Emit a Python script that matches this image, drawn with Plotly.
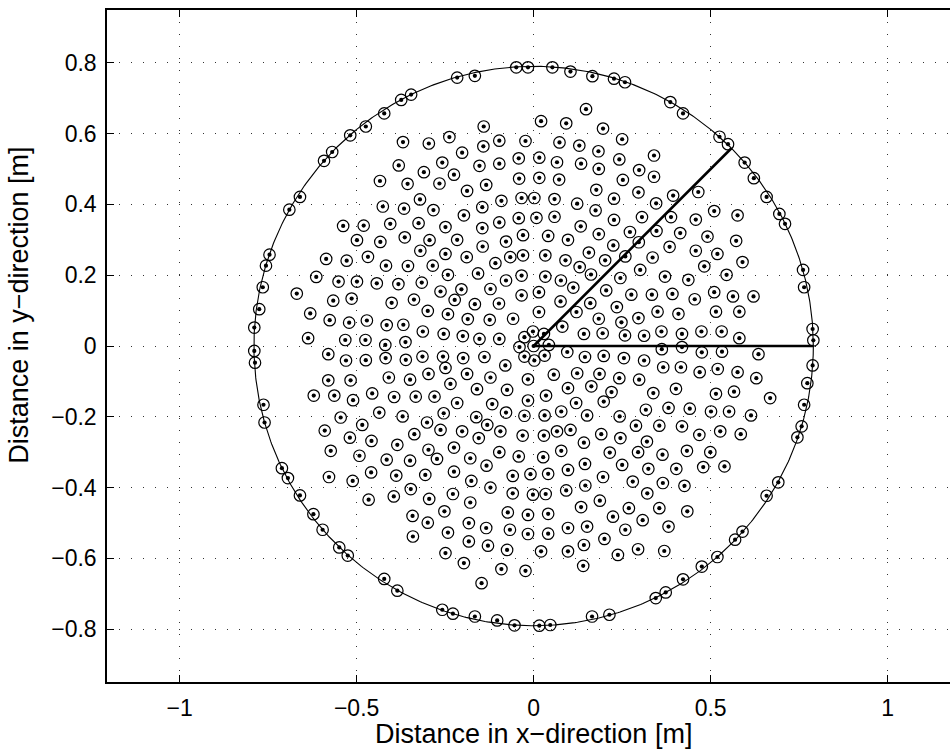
import numpy as np
import plotly.graph_objects as go

R = 0.79  # radius of boundary circle [m]

# Points lying on the boundary circle
ring_x = [-0.346,-0.374,-0.422,-0.474,-0.518,-0.569,-0.592,-0.660,-0.690,
          -0.746,-0.756,-0.765,-0.775,-0.789,-0.789,-0.787,-0.763,-0.760,
          -0.711,-0.694,-0.660,-0.622,-0.596,-0.549,-0.525,-0.422,-0.385,
          -0.258,-0.228,-0.166,-0.103,-0.054,0.016,0.047,0.165,0.214,
          0.345,0.373,0.422,0.475,0.519,0.569,0.590,0.658,0.691,
          0.745,0.757,0.764,0.773,0.788,0.790,0.788,0.764,0.761,
          0.710,0.694,0.658,0.622,0.596,0.549,0.525,0.422,0.386,
          0.258,0.227,0.166,0.104,0.053,-0.016,-0.049,-0.166,-0.216]
ring_y = [0.710,0.695,0.657,0.620,0.595,0.548,0.523,0.421,0.385,
          0.258,0.227,0.166,0.104,0.052,-0.014,-0.047,-0.166,-0.216,
          -0.345,-0.373,-0.422,-0.475,-0.519,-0.569,-0.592,-0.658,-0.691,
          -0.745,-0.756,-0.764,-0.775,-0.789,-0.790,-0.788,-0.764,-0.759,
          -0.712,-0.696,-0.659,-0.623,-0.596,-0.547,-0.524,-0.423,-0.385,
          -0.258,-0.227,-0.166,-0.105,-0.055,0.016,0.048,0.166,0.215,
          0.345,0.373,0.421,0.474,0.518,0.570,0.591,0.657,0.689,
          0.745,0.755,0.762,0.775,0.787,0.787,0.787,0.763,0.758]

# Interior points
inner_pts = [
 (-0.369,0.576),(-0.296,0.572),(-0.381,0.510),(-0.310,0.491),(-0.434,0.466),(-0.356,0.458),(-0.321,0.414),
 (-0.426,0.394),(-0.366,0.388),(-0.283,0.384),(-0.405,0.345),(-0.325,0.347),(-0.538,0.339),(-0.480,0.340),
 (-0.499,0.299),(-0.433,0.294),(-0.364,0.307),(-0.294,0.299),(-0.320,0.269),
 (0.148,0.669),(0.021,0.635),(0.092,0.629),(-0.141,0.620),(0.196,0.614),(-0.238,0.590),(0.250,0.584),
 (-0.097,0.580),(-0.023,0.579),(0.073,0.575),(-0.142,0.564),(0.129,0.566),(0.183,0.550),(-0.202,0.546),
 (-0.042,0.530),(0.016,0.532),(0.242,0.527),(-0.258,0.518),(0.066,0.519),(-0.097,0.515),(-0.153,0.509),
 (0.134,0.515),(0.184,0.500),(-0.225,0.484),(-0.266,0.459),(-0.134,0.455),(-0.041,0.473),(0.016,0.475),
 (0.072,0.470),(0.252,0.469),(-0.188,0.438),(0.177,0.441),(-0.091,0.410),(-0.034,0.418),(0.002,0.418),
 (0.059,0.415),(0.123,0.402),(0.227,0.416),(-0.145,0.392),(0.175,0.383),(-0.197,0.369),(-0.042,0.361),
 (0.008,0.362),(0.059,0.365),(-0.097,0.349),(0.227,0.356),(-0.249,0.336),(-0.145,0.333),(0.133,0.338),
 (0.184,0.316),(0.272,0.322),(-0.216,0.300),(-0.030,0.313),(0.041,0.311),(0.097,0.300),(-0.144,0.281),
 (-0.078,0.295),(0.225,0.284),
 (0.340,0.538),(0.298,0.497),(0.340,0.478),(0.296,0.434),(0.346,0.403),(0.394,0.425),(0.465,0.435),
 (0.510,0.381),(0.576,0.369),(0.306,0.364),(0.388,0.364),(0.458,0.357),(0.347,0.325),(0.414,0.319),
 (0.491,0.309),(0.572,0.297),(0.297,0.293),(0.384,0.280),
 (-0.586,0.246),(-0.528,0.241),(-0.468,0.252),(-0.417,0.227),(-0.355,0.226),(-0.285,0.227),(-0.614,0.195),
 (-0.551,0.182),(-0.499,0.182),(-0.443,0.177),(-0.382,0.175),(-0.316,0.179),(-0.669,0.148),(-0.566,0.128),
 (-0.514,0.134),(-0.401,0.122),(-0.338,0.131),(-0.631,0.092),(-0.576,0.073),(-0.521,0.066),(-0.471,0.072),
 (-0.415,0.059),(-0.368,0.060),(-0.299,0.099),(-0.313,0.041),(-0.637,0.022),(-0.532,0.017),(-0.475,0.017),
 (-0.419,0.003),(-0.362,0.011),(-0.580,-0.023),(-0.530,-0.041),(-0.474,-0.040),(-0.418,-0.034),(-0.361,-0.039),
 (-0.314,-0.030),(-0.580,-0.097),(-0.517,-0.097),(-0.409,-0.089),(-0.349,-0.095),(-0.297,-0.079),(-0.621,-0.140),
 (-0.563,-0.140),(-0.510,-0.153),(-0.456,-0.134),(-0.394,-0.144),(-0.333,-0.143),(-0.280,-0.143),(-0.545,-0.202),
 (-0.436,-0.188),(-0.370,-0.199),(-0.301,-0.216),(-0.484,-0.223),(-0.590,-0.239),(-0.519,-0.259),(-0.458,-0.268),
 (-0.337,-0.249),
 (-0.249,0.260),(-0.189,0.251),(-0.108,0.234),(-0.066,0.251),(-0.030,0.256),(0.033,0.256),(0.090,0.242),
 (0.130,0.223),(0.156,0.264),(0.202,0.242),(0.259,0.253),(-0.242,0.201),(-0.157,0.205),(-0.078,0.185),
 (-0.034,0.199),(0.015,0.152),(0.033,0.196),(0.077,0.185),(0.112,0.165),(0.162,0.202),(0.245,0.192),
 (-0.263,0.154),(-0.204,0.160),(-0.122,0.161),(-0.034,0.143),(0.205,0.157),(0.276,0.145),(-0.223,0.130),
 (-0.166,0.118),(-0.098,0.120),(0.076,0.126),(0.160,0.121),(0.235,0.110),(-0.242,0.090),(-0.186,0.076),
 (-0.124,0.074),(-0.058,0.077),(0.015,0.096),(0.121,0.096),(0.184,0.077),(0.248,0.067),(0.081,0.055),
 (-0.254,0.034),(-0.200,0.028),(-0.153,0.020),(-0.097,0.020),(0.142,0.034),(0.195,0.036),(0.258,0.030),
 (0.000,0.000),(-0.002,0.041),(0.029,0.034),(0.043,0.003),(0.031,-0.027),(0.002,-0.041),(-0.026,-0.030),
 (-0.040,-0.003),(-0.026,0.025),
 (-0.256,-0.030),(-0.199,-0.034),(-0.139,-0.031),(0.095,-0.017),(0.145,-0.031),(0.198,-0.028),(0.255,-0.034),
 (-0.249,-0.062),(-0.188,-0.079),(-0.080,-0.055),(0.057,-0.081),(0.123,-0.077),(0.186,-0.079),(0.242,-0.091),
 (-0.235,-0.107),(-0.160,-0.122),(-0.122,-0.089),(-0.016,-0.094),(-0.075,-0.124),(0.097,-0.119),(0.163,-0.114),
 (0.220,-0.130),(0.035,-0.140),(-0.016,-0.154),(0.120,-0.161),(0.198,-0.157),(-0.216,-0.161),(-0.117,-0.164),
 (0.078,-0.185),(-0.078,-0.188),(-0.254,-0.190),(0.031,-0.196),(0.151,-0.196),(-0.026,-0.197),(-0.162,-0.201),
 (0.243,-0.199),(-0.131,-0.223),(-0.202,-0.241),(-0.094,-0.241),(-0.031,-0.253),(0.029,-0.253),(0.066,-0.241),
 (0.104,-0.237),(0.191,-0.249),(0.245,-0.260),(-0.155,-0.260),(-0.263,-0.237),(0.142,-0.273),
 (0.336,0.250),(0.458,0.269),(0.519,0.260),(0.590,0.237),(0.301,0.215),(0.371,0.196),(0.437,0.187),
 (0.482,0.225),(0.545,0.201),(0.334,0.145),(0.392,0.147),(0.455,0.132),(0.510,0.152),(0.563,0.140),
 (0.621,0.140),(0.296,0.079),(0.350,0.097),(0.409,0.091),(0.515,0.097),(0.581,0.097),(0.312,0.029),
 (0.361,0.041),(0.419,0.034),(0.474,0.041),(0.531,0.041),(0.581,0.022),(0.362,-0.009),(0.419,-0.003),
 (0.475,-0.018),(0.532,-0.016),(0.635,-0.023),(0.312,-0.041),(0.366,-0.060),(0.416,-0.060),(0.469,-0.074),
 (0.520,-0.065),(0.576,-0.074),(0.629,-0.091),(0.298,-0.095),(0.338,-0.133),(0.402,-0.121),(0.515,-0.135),
 (0.566,-0.129),(0.668,-0.147),(0.317,-0.180),(0.381,-0.175),(0.441,-0.177),(0.501,-0.185),(0.552,-0.185),
 (0.614,-0.196),(0.289,-0.225),(0.355,-0.225),(0.419,-0.227),(0.468,-0.251),(0.527,-0.241),(0.585,-0.249),
 (0.320,-0.270),
 (-0.573,-0.296),(-0.492,-0.310),(-0.385,-0.279),(-0.297,-0.293),(-0.415,-0.321),(-0.349,-0.324),(-0.273,-0.319),
 (-0.578,-0.370),(-0.511,-0.381),(-0.459,-0.357),(-0.388,-0.366),(-0.306,-0.364),(-0.347,-0.404),(-0.466,-0.434),
 (-0.395,-0.425),(-0.295,-0.432),(-0.342,-0.480),(-0.299,-0.499),(-0.341,-0.538),
 (-0.225,-0.287),(-0.097,-0.300),(-0.042,-0.312),(0.027,-0.314),(0.078,-0.296),(0.215,-0.301),(-0.179,-0.317),
 (-0.133,-0.338),(0.250,-0.336),(0.145,-0.333),(0.097,-0.350),(-0.225,-0.355),(-0.059,-0.367),(-0.009,-0.362),
 (0.041,-0.361),(0.196,-0.370),(0.280,-0.383),(-0.176,-0.381),(-0.122,-0.400),(0.146,-0.394),(0.092,-0.408),
 (-0.228,-0.418),(-0.059,-0.416),(-0.002,-0.420),(0.034,-0.418),(0.187,-0.437),(-0.179,-0.442),(0.269,-0.458),
 (0.134,-0.455),(-0.252,-0.467),(-0.073,-0.470),(-0.016,-0.477),(0.041,-0.474),(0.224,-0.482),(-0.183,-0.500),
 (-0.134,-0.514),(-0.067,-0.519),(-0.016,-0.531),(0.041,-0.530),(0.097,-0.514),(0.151,-0.510),(0.259,-0.519),
 (-0.242,-0.527),(-0.183,-0.552),(-0.129,-0.564),(-0.075,-0.576),(0.021,-0.580),(0.097,-0.580),(0.142,-0.562),
 (0.200,-0.545),(0.238,-0.590),(-0.249,-0.585),(-0.197,-0.613),(-0.091,-0.630),(-0.023,-0.635),(0.140,-0.621),
 (-0.147,-0.670),
 (0.295,-0.300),(0.364,-0.307),(0.433,-0.296),(0.499,-0.300),(0.324,-0.347),(0.403,-0.347),(0.479,-0.342),
 (0.539,-0.340),(0.365,-0.387),(0.426,-0.395),(0.321,-0.416),(0.355,-0.458),(0.434,-0.467),(0.308,-0.492),
 (0.381,-0.510),(0.295,-0.574),(0.369,-0.579),
]
inner_x = [p[0] for p in inner_pts]
inner_y = [p[1] for p in inner_pts]

ray_angles_deg = [0, 45]

x_ticks = [-1, -0.5, 0, 0.5, 1]
x_ticktext = ["\u22121", "\u22120.5", "0", "0.5", "1"]
y_ticks = [-0.8, -0.6, -0.4, -0.2, 0, 0.2, 0.4, 0.6, 0.8]
y_ticktext = ["\u22120.8", "\u22120.6", "\u22120.4", "\u22120.2", "0", "0.2", "0.4", "0.6", "0.8"]

all_x = ring_x + inner_x
all_y = ring_y + inner_y

fig = go.Figure()

th = np.linspace(0, 2 * np.pi, 721)
fig.add_trace(go.Scatter(x=R * np.cos(th), y=R * np.sin(th), mode="lines",
                         line=dict(color="black", width=1.1), hoverinfo="skip"))
for a in ray_angles_deg:
    ar = np.deg2rad(a)
    fig.add_trace(go.Scatter(x=[0, R * np.cos(ar)], y=[0, R * np.sin(ar)], mode="lines",
                             line=dict(color="black", width=2.6), hoverinfo="skip"))

fig.add_trace(go.Scatter(x=all_x, y=all_y, mode="markers",
                         marker=dict(symbol="circle-open", size=11.5, color="black",
                                     line=dict(width=1.2, color="black"))))
fig.add_trace(go.Scatter(x=all_x, y=all_y, mode="markers",
                         marker=dict(symbol="circle", size=4.2, color="black", line=dict(width=0))))

FONT = "Liberation Sans, Arial, Helvetica, sans-serif"
TICK_SIZE = 23
TITLE_SIZE = 27
fig.update_layout(
    width=950, height=751,
    margin=dict(l=107, r=0, t=10, b=69),
    paper_bgcolor="white", plot_bgcolor="white",
    showlegend=False,
    font=dict(family=FONT, size=TICK_SIZE, color="black"),
    xaxis=dict(range=[-1.205, 1.176], tickvals=x_ticks, ticktext=x_ticktext,
               ticks="inside", ticklen=7, tickwidth=1, tickcolor="black",
               showline=True, linecolor="black", linewidth=1.5, mirror="ticks",
               showgrid=True, gridcolor="#333", gridwidth=1, griddash="1px,11px",
               zeroline=False, ticklabelstandoff=5),
    yaxis=dict(range=[-0.949, 0.949], tickvals=y_ticks, ticktext=y_ticktext,
               ticks="inside", ticklen=7, tickwidth=1, tickcolor="black",
               showline=True, linecolor="black", linewidth=1.5, mirror=False,
               showgrid=True, gridcolor="#333", gridwidth=1, griddash="1px,11px",
               zeroline=False, ticklabelstandoff=4),
    annotations=[
        dict(text="Distance in x\u2212direction [m]", xref="x", x=0, yref="paper", y=0,
             yanchor="middle", yshift=-52, showarrow=False, font=dict(size=TITLE_SIZE)),
        dict(text="Distance in y\u2212direction [m]", xref="paper", x=0, yref="y", y=0.1136,
             xanchor="center", xshift=-88, textangle=-90, showarrow=False, font=dict(size=TITLE_SIZE)),
    ],
)

fig.write_html("out.html")
